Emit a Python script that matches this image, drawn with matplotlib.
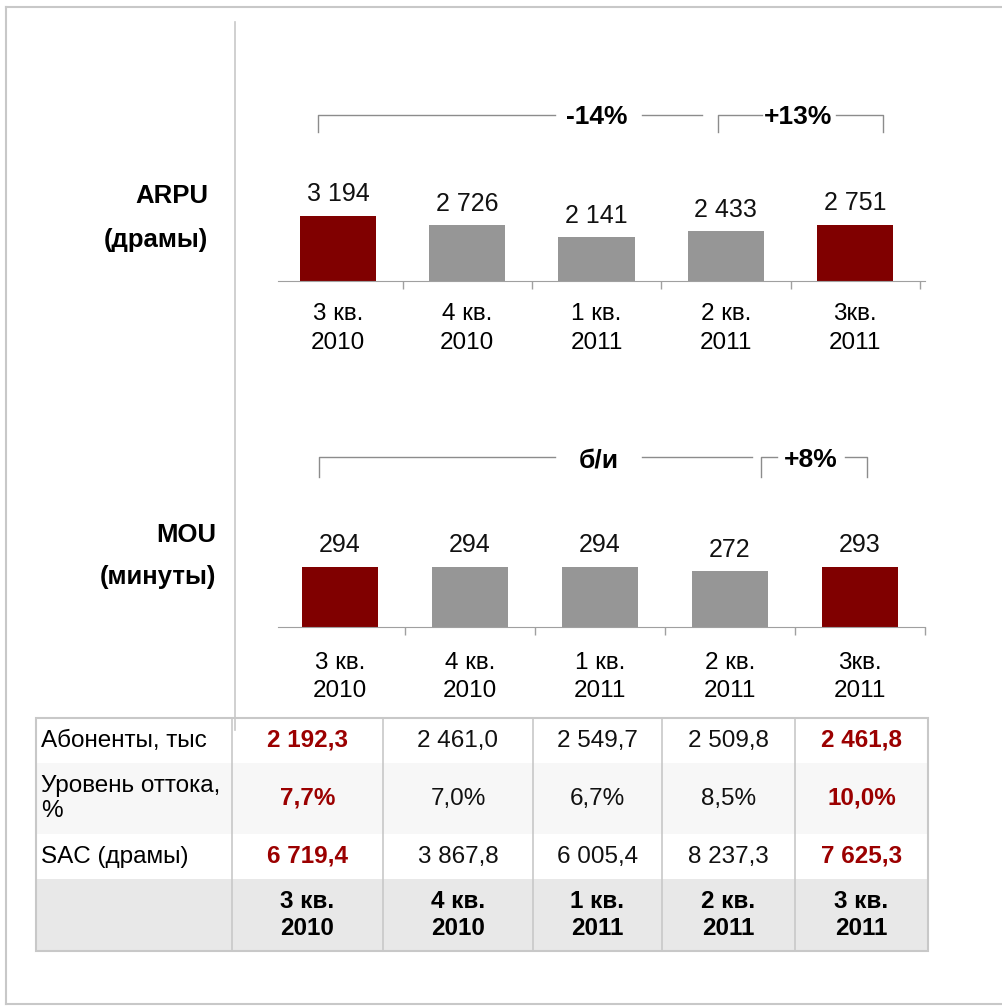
import matplotlib.pyplot as plt
from matplotlib.patches import Rectangle
from matplotlib.ticker import FixedLocator

plt.rcParams["font.family"] = ["Liberation Sans", "DejaVu Sans"]

# data
quarters = ["3 кв.\n2010", "4 кв.\n2010", "1 кв.\n2011", "2 кв.\n2011", "3кв.\n2011"]
arpu = [3194, 2726, 2141, 2433, 2751]
arpu_labels = ["3 194", "2 726", "2 141", "2 433", "2 751"]
mou = [294, 294, 294, 272, 293]
mou_labels = ["294", "294", "294", "272", "293"]
highlight = [True, False, False, False, True]

table_rows = ["Абоненты, тыс", "Уровень оттока,\n%", "SAC (драмы)"]
subscribers = ["2 192,3", "2 461,0", "2 549,7", "2 509,8", "2 461,8"]
churn = ["7,7%", "7,0%", "6,7%", "8,5%", "10,0%"]
sac = ["6 719,4", "3 867,8", "6 005,4", "8 237,3", "7 625,3"]
table_header = ["3 кв.\n2010", "4 кв.\n2010", "1 кв.\n2011", "2 кв.\n2011", "3 кв.\n2011"]

RED = "#800000"
GREY = "#969696"
TXT_RED = "#9b0000"
LINE = "#c8c8c8"

W, H = 1002, 1006
fig = plt.figure(figsize=(W / 100, H / 100), dpi=100)

# overlay in pixel coordinates for frame, brackets and table
bg = fig.add_axes([0, 0, 1, 1])
bg.set_xlim(0, W)
bg.set_ylim(H, 0)
bg.axis("off")

bg.plot([6, W], [7, 7], color=LINE, lw=1.5)
bg.plot([6, 6], [7, 1004], color=LINE, lw=1.5)
bg.plot([6, W], [1004, 1004], color=LINE, lw=1.5)
bg.plot([235, 235], [22, 730], color=LINE, lw=1.2)


def bar_panel(rect, values, labels, ylim, xlim, pad):
    ax = fig.add_axes(rect)
    colours = [RED if h else GREY for h in highlight]
    x = range(len(values))
    ax.bar(x, values, width=0.59, color=colours, zorder=2)
    for xi, v, lab in zip(x, values, labels):
        ax.annotate(lab, xy=(xi, v), xytext=(0, 7), textcoords="offset points",
                    ha="center", va="bottom", fontsize=18, color="#111111")
    ax.set_xlim(*xlim)
    ax.set_ylim(*ylim)
    ax.set_yticks([])
    ax.xaxis.set_major_locator(FixedLocator(list(x)))
    ax.set_xticklabels(quarters, fontsize=17.5, linespacing=1.38)
    ax.xaxis.set_minor_locator(FixedLocator([0.5, 1.5, 2.5, 3.5, 4.5]))
    ax.tick_params(axis="x", which="major", length=0, pad=pad)
    ax.tick_params(axis="x", which="minor", length=6, color="#a0a0a0", width=1)
    for s in ["top", "right", "left"]:
        ax.spines[s].set_visible(False)
    ax.spines["bottom"].set_color("#a0a0a0")
    ax.patch.set_alpha(0)
    return ax


def frac(x0, y_base, x1, h):
    return [x0 / W, (H - y_base) / H, (x1 - x0) / W, h / H]


bar_panel(frac(278, 281, 925, 130), arpu, arpu_labels, (0, 130 * 49), (-0.464, 4.54), 16)
bar_panel(frac(278, 627, 925, 130), mou, mou_labels, (0, 130 * 4.9), (-0.477, 4.5), 18)

# left titles
tk = dict(ha="right", va="center", fontsize=18.5, fontweight="bold")
bg.text(208, 196, "ARPU", **tk)
bg.text(208, 240, "(драмы)", **tk)
bg.text(216, 535, "MOU", **tk)
bg.text(216, 577, "(минуты)", **tk)

# brackets
bk = dict(color="#8c8c8c", lw=1)
pk = dict(ha="center", va="center", fontsize=19, fontweight="bold")
bg.plot([318, 318, 555], [132, 115, 115], **bk)
bg.plot([642, 702], [115, 115], **bk)
bg.text(597, 117, "-14%", **pk)
bg.plot([718, 718, 762], [132, 115, 115], **bk)
bg.plot([836, 883, 883], [115, 115, 132], **bk)
bg.text(798, 117, "+13%", **pk)

bg.plot([319, 319, 555], [477, 457, 457], **bk)
bg.plot([642, 752], [457, 457], **bk)
bg.text(599, 460, "б/и", **pk)
bg.plot([761, 761, 777], [477, 457, 457], **bk)
bg.plot([845, 867, 867], [457, 457, 477], **bk)
bg.text(811, 460, "+8%", **pk)

# table
cols = [36, 232, 383, 533, 662, 795, 928]
rows = [718, 763, 834, 879, 951]
fills = ["white", "#f7f7f7", "white", "#e8e8e8"]
for (y0, y1), fc in zip(zip(rows[:-1], rows[1:]), fills):
    bg.add_patch(Rectangle((cols[0], y0), cols[-1] - cols[0], y1 - y0, fc=fc, ec="none"))
bg.add_patch(Rectangle((cols[0], rows[0]), cols[-1] - cols[0], rows[-1] - rows[0],
                       fc="none", ec=LINE, lw=1.5))
for cx in cols[1:-1]:
    bg.plot([cx, cx], [rows[0], rows[-1]], color=LINE, lw=1.2)

centres = [(a + b) / 2 for a, b in zip(cols[1:-1], cols[2:])]
for r, (label, vals) in enumerate(zip(table_rows, [subscribers, churn, sac])):
    yc = (rows[r] + rows[r + 1]) / 2
    bg.text(41, yc, label, ha="left", va="center", fontsize=17.5, linespacing=1.15)
    for xc, v, h in zip(centres, vals, highlight):
        bg.text(xc, yc, v, ha="center", va="center", fontsize=17.5,
                color=TXT_RED if h else "#111111", fontweight="bold" if h else "normal")
yc = (rows[3] + rows[4]) / 2
for xc, lab in zip(centres, table_header):
    bg.text(xc, yc, lab, ha="center", va="center", fontsize=17.5, fontweight="bold",
            linespacing=1.2)

fig.savefig("out.png", dpi=100)
